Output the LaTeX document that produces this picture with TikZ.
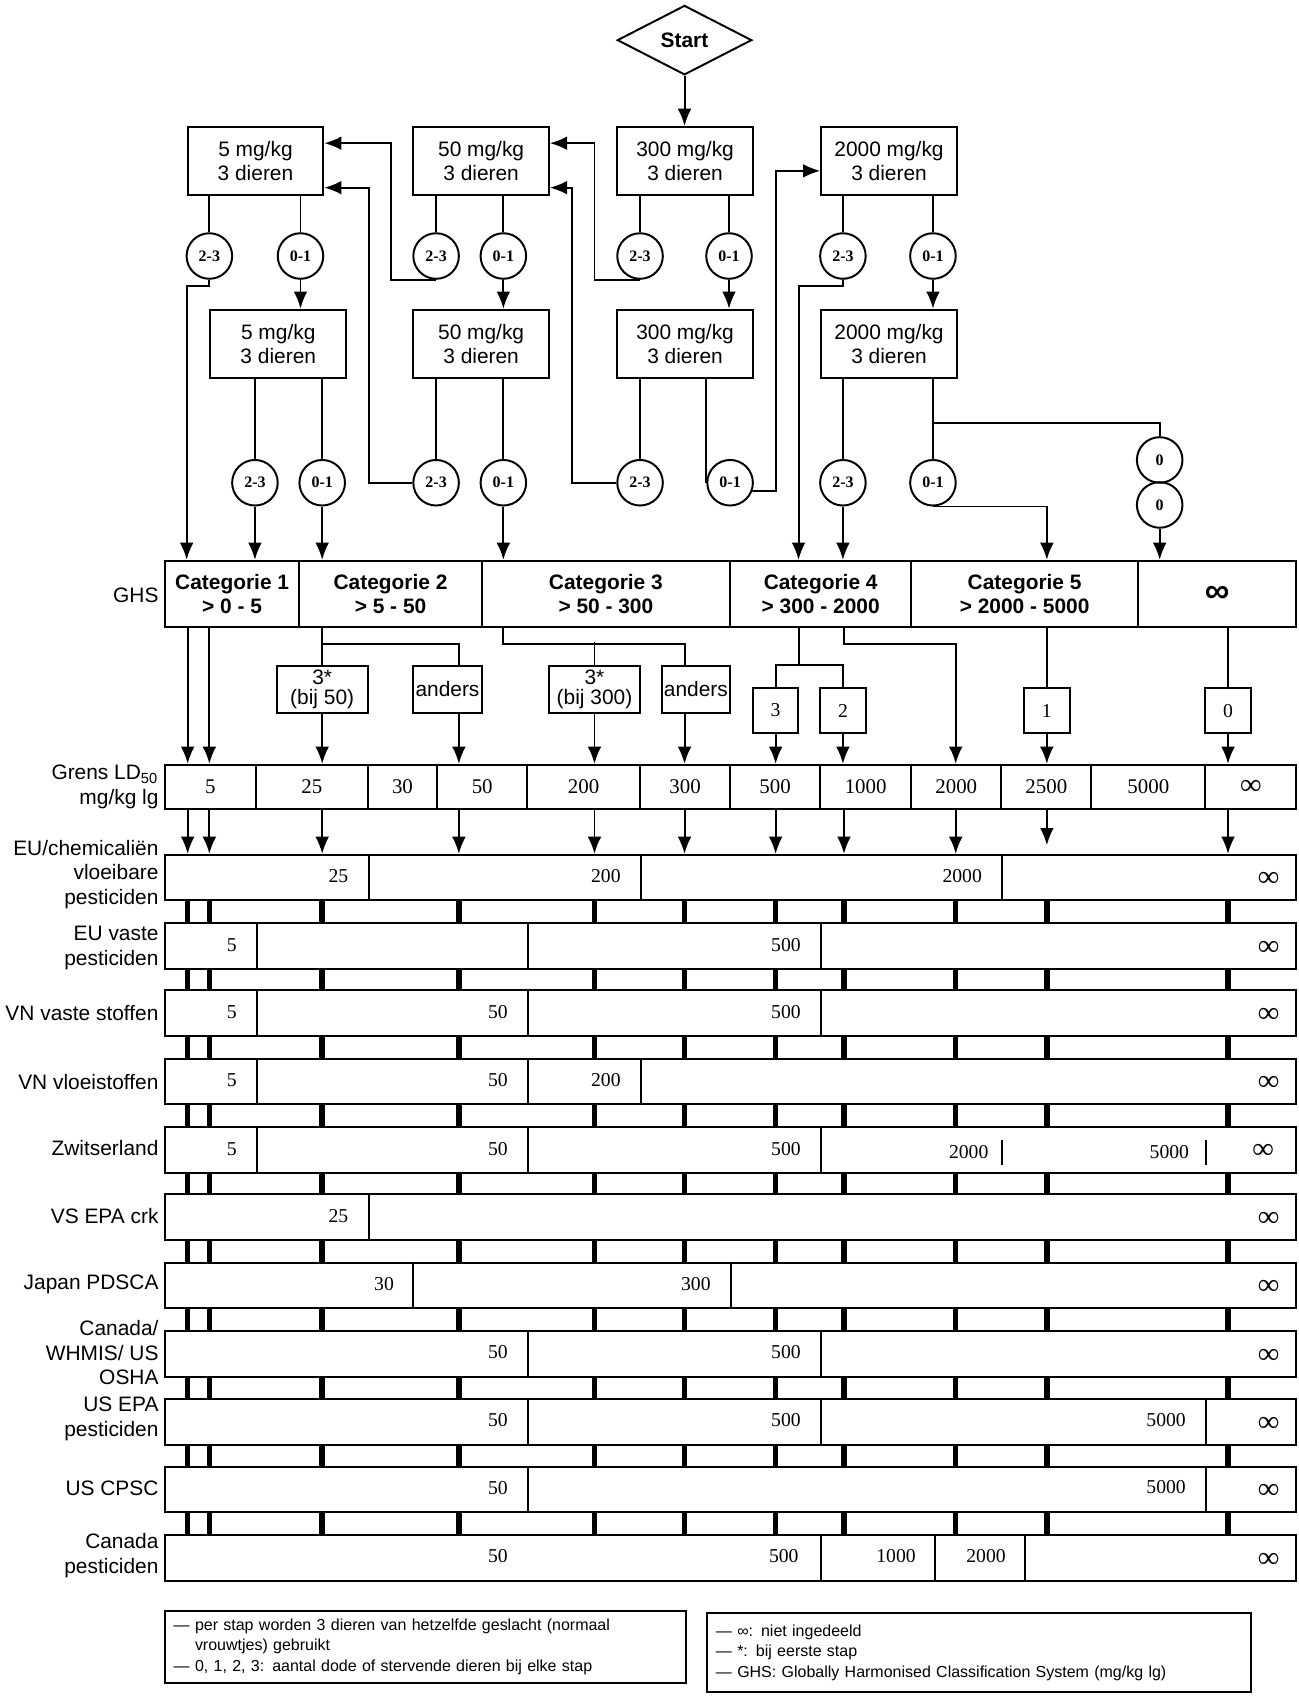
\documentclass[tikz,border=0pt]{standalone}
\usepackage{fontspec}
\setmainfont{Liberation Sans}
\newfontfamily\tms{Liberation Serif}
\usepackage{tikz}
\usetikzlibrary{arrows.meta,shapes.geometric,calc}
\newcommand\pxu{0.0155cm}

\begin{document}
\begin{tikzpicture}[x=\pxu,y=-\pxu,line width=0.8pt,font=\fontsize{8.5}{10}\selectfont,
  arr/.style={-{Latex[length=7pt,width=5.6pt]}},
  dose/.style={draw,minimum width=125*\pxu,minimum height=63*\pxu,inner sep=0pt,align=center},
  tally/.style={draw,circle,minimum size=42*\pxu,inner sep=0pt,font=\tms\bfseries\fontsize{6.5}{7}\selectfont},
  cat/.style={draw,minimum height=61*\pxu,inner sep=0pt,align=center,font=\bfseries\fontsize{8.5}{10}\selectfont},
  sub/.style={draw,minimum height=43*\pxu,inner sep=0pt,align=center,font=\fontsize{8.5}{8}\selectfont},
  num/.style={draw,minimum size=42*\pxu,inner sep=0pt,font=\tms\fontsize{8}{9}\selectfont},
  grens/.style={draw,minimum height=41*\pxu,inner sep=0pt,font=\tms\fontsize{8.5}{10}\selectfont},
  band/.style={draw,minimum width=1043*\pxu,minimum height=42*\pxu,inner sep=0pt},
  val/.style={anchor=east,inner sep=0pt,font=\tms\fontsize{8}{9}\selectfont},
  inf/.style={anchor=east,inner sep=0pt,font=\tms\bfseries\fontsize{12}{12}\selectfont},
  lbl/.style={anchor=east,inner sep=0pt,align=right},
  rung/.style={line width=2.2pt},
  note/.style={draw,align=left,inner xsep=0.124cm,font=\fontsize{6.5}{8.2}\selectfont}]
  \useasboundingbox (0,0) rectangle (1197,1568);

  \foreach \x [count=\i] in {173,193,297,423,548,631,715,778,881,965,1132}
    \coordinate (l\i) at (\x,0);

  \node[draw,diamond,aspect=2,minimum width=124*\pxu,minimum height=64*\pxu,inner sep=0pt,font=\bfseries\fontsize{8.5}{10}\selectfont] (start) at (631,37) {Start};

  \node[dose] (b1) at (235.5,148.5) {5 mg/kg\\3 dieren};
  \node[dose] (b2) at (443.5,148.5) {50 mg/kg\\3 dieren};
  \node[dose] (b3) at (631.5,148.5) {300 mg/kg\\3 dieren};
  \node[dose] (b4) at (819.5,148.5) {2000 mg/kg\\3 dieren};

  \node[tally] (b1l) at (193,236) {2-3};
  \node[tally] (b1r) at (277,236) {0-1};
  \node[tally] (b2l) at (402,236) {2-3};
  \node[tally] (b2r) at (464,236) {0-1};
  \node[tally] (b3l) at (590,236) {2-3};
  \node[tally] (b3r) at (672,236) {0-1};
  \node[tally] (b4l) at (777,236) {2-3};
  \node[tally] (b4r) at (860,236) {0-1};

  \node[dose] (c1) at (256.5,317) {5 mg/kg\\3 dieren};
  \node[dose] (c2) at (443.5,317) {50 mg/kg\\3 dieren};
  \node[dose] (c3) at (631.5,317) {300 mg/kg\\3 dieren};
  \node[dose] (c4) at (819.5,317) {2000 mg/kg\\3 dieren};

  \node[tally] (c1l) at (235,445) {2-3};
  \node[tally] (c1r) at (297,445) {0-1};
  \node[tally] (c2l) at (402,445) {2-3};
  \node[tally] (c2r) at (464,445) {0-1};
  \node[tally] (c3l) at (590,445) {2-3};
  \node[tally] (c3r) at (673,445) {0-1};
  \node[tally] (c4l) at (777,445) {2-3};
  \node[tally] (c4r) at (860,445) {0-1};
  \node[tally] (z1) at (1069,424) {0};
  \node[tally] (z2) at (1069,465.5) {0};

  \node[lbl] (ghs) at (147,549) {GHS};
  \node[cat,minimum width=124*\pxu] (cat1) at (214,547.5) {Categorie 1\\> 0 - 5};
  \node[cat,minimum width=168*\pxu] (cat2) at (360,547.5) {Categorie 2\\> 5 - 50};
  \node[cat,minimum width=229*\pxu] (cat3) at (558.5,547.5) {Categorie 3\\> 50 - 300};
  \node[cat,minimum width=167*\pxu] (cat4) at (756.5,547.5) {Categorie 4\\> 300 - 2000};
  \node[cat,minimum width=209*\pxu] (cat5) at (944.5,547.5) {Categorie 5\\> 2000 - 5000};
  \node[cat,minimum width=146*\pxu,font=\bfseries\fontsize{14}{14}\selectfont] (cat6) at (1122,547.5) {∞};

  \node[sub,minimum width=84*\pxu] (s50) at (297,635.5) {3*\\(bij 50)};
  \node[sub,minimum width=63*\pxu] (o50) at (412.5,635.5) {anders};
  \node[sub,minimum width=84*\pxu] (s300) at (548,635.5) {3*\\(bij 300)};
  \node[sub,minimum width=63*\pxu] (o300) at (641.5,635.5) {anders};
  \node[num] (n3) at (715,655) {3};
  \node[num] (n2) at (777,655) {2};
  \node[num] (n1) at (965,655) {1};
  \node[num] (n0) at (1132,655) {0};

  \node[lbl] (lgrens) at (147,725.5) {Grens LD\textsubscript{50}\\mg/kg lg};
  \node[grens,minimum width=84*\pxu] (g5) at (194,725.5) {5};
  \node[grens,minimum width=103*\pxu] (g25) at (287.5,725.5) {25};
  \node[grens,minimum width=64*\pxu] (g30) at (371,725.5) {30};
  \node[grens,minimum width=83*\pxu] (g50) at (444.5,725.5) {50};
  \node[grens,minimum width=104*\pxu] (g200) at (538,725.5) {200};
  \node[grens,minimum width=83*\pxu] (g300) at (631.5,725.5) {300};
  \node[grens,minimum width=83*\pxu] (g500) at (714.5,725.5) {500};
  \node[grens,minimum width=84*\pxu] (g1000) at (798,725.5) {1000};
  \node[grens,minimum width=83*\pxu] (g2000) at (881.5,725.5) {2000};
  \node[grens,minimum width=83*\pxu] (g2500) at (964.5,725.5) {2500};
  \node[grens,minimum width=105*\pxu] (g5000) at (1058.5,725.5) {5000};
  \node[grens,minimum width=84*\pxu,font=\tms\bfseries\fontsize{12}{12}\selectfont] (ginf) at (1153,725.5) {∞};

  \node[lbl] (leuc) at (147,806) {EU/chemicaliën\\vloeibare\\pesticiden};
  \node[band] (r1) at (673.5,809) {};
  \draw (r1.north -| g25.east) -- (r1.south -| g25.east);
  \draw (r1.north -| g200.east) -- (r1.south -| g200.east);
  \draw (r1.north -| g2000.east) -- (r1.south -| g2000.east);
  \node[val] (r1a) at (322,808) {25};
  \node[val] (r1b) at (573,808) {200};
  \node[val] (r1c) at (906,808) {2000};
  \node[inf] (r1d) at (1180,811) {∞};

  \node[lbl] (leuv) at (147,874) {EU vaste\\pesticiden};
  \node[band] (r2) at (673.5,872) {};
  \draw (r2.north -| g5.east) -- (r2.south -| g5.east);
  \draw (r2.north -| g50.east) -- (r2.south -| g50.east);
  \draw (r2.north -| g500.east) -- (r2.south -| g500.east);
  \node[val] (r2a) at (219,871) {5};
  \node[val] (r2b) at (739,871) {500};
  \node[inf] (r2c) at (1180,874) {∞};

  \node[lbl] (lvnv) at (147,934) {VN vaste stoffen};
  \node[band] (r3) at (673.5,934) {};
  \draw (r3.north -| g5.east) -- (r3.south -| g5.east);
  \draw (r3.north -| g50.east) -- (r3.south -| g50.east);
  \draw (r3.north -| g500.east) -- (r3.south -| g500.east);
  \node[val] (r3a) at (219,933) {5};
  \node[val] (r3b) at (469,933) {50};
  \node[val] (r3c) at (739,933) {500};
  \node[inf] (r3d) at (1180,936) {∞};

  \node[lbl] (lvnl) at (147,997) {VN vloeistoffen};
  \node[band] (r4) at (673.5,997) {};
  \draw (r4.north -| g5.east) -- (r4.south -| g5.east);
  \draw (r4.north -| g50.east) -- (r4.south -| g50.east);
  \draw (r4.north -| g200.east) -- (r4.south -| g200.east);
  \node[val] (r4a) at (219,996) {5};
  \node[val] (r4b) at (469,996) {50};
  \node[val] (r4c) at (573,996) {200};
  \node[inf] (r4d) at (1180,999) {∞};

  \node[lbl] (lzw) at (147,1058) {Zwitserland};
  \node[band] (r5) at (673.5,1060) {};
  \draw (r5.north -| g5.east) -- (r5.south -| g5.east);
  \draw (r5.north -| g50.east) -- (r5.south -| g50.east);
  \draw (r5.north -| g500.east) -- (r5.south -| g500.east);
  \draw (r5.center -| g2000.east) ++(0,-9) -- ++(0,23);
  \draw (r5.center -| g5000.east) ++(0,-9) -- ++(0,23);
  \node[val] (r5a) at (219,1059) {5};
  \node[val] (r5b) at (469,1059) {50};
  \node[val] (r5c) at (739,1059) {500};
  \node[val] (r5d) at (912,1062) {2000};
  \node[val] (r5e) at (1097,1062) {5000};
  \node[inf] (r5f) at (1175,1061) {∞};

  \node[lbl] (lvs) at (147,1121) {VS EPA crk};
  \node[band] (r6) at (673.5,1122) {};
  \draw (r6.north -| g25.east) -- (r6.south -| g25.east);
  \node[val] (r6a) at (322,1121) {25};
  \node[inf] (r6b) at (1180,1124) {∞};

  \node[lbl] (ljp) at (147,1184) {Japan PDSCA};
  \node[band] (r7) at (673.5,1185) {};
  \draw (r7.north -| 381,0) -- (r7.south -| 381,0);
  \draw (r7.north -| g300.east) -- (r7.south -| g300.east);
  \node[val] (r7a) at (364,1184) {30};
  \node[val] (r7b) at (656,1184) {300};
  \node[inf] (r7c) at (1180,1187) {∞};

  \node[lbl] (lca) at (147,1247) {Canada/\\WHMIS/ US\\OSHA};
  \node[band] (r8) at (673.5,1248) {};
  \draw (r8.north -| g50.east) -- (r8.south -| g50.east);
  \draw (r8.north -| g500.east) -- (r8.south -| g500.east);
  \node[val] (r8a) at (469,1246) {50};
  \node[val] (r8b) at (739,1246) {500};
  \node[inf] (r8c) at (1180,1250) {∞};

  \node[lbl] (lusp) at (147,1308) {US EPA\\pesticiden};
  \node[band] (r9) at (673.5,1311) {};
  \draw (r9.north -| g50.east) -- (r9.south -| g50.east);
  \draw (r9.north -| g500.east) -- (r9.south -| g500.east);
  \draw (r9.north -| g5000.east) -- (r9.south -| g5000.east);
  \node[val] (r9a) at (469,1309) {50};
  \node[val] (r9b) at (739,1309) {500};
  \node[val] (r9c) at (1094,1309) {5000};
  \node[inf] (r9d) at (1180,1313) {∞};

  \node[lbl] (lcpsc) at (147,1372) {US CPSC};
  \node[band] (r10) at (673.5,1373) {};
  \draw (r10.north -| g50.east) -- (r10.south -| g50.east);
  \draw (r10.north -| g5000.east) -- (r10.south -| g5000.east);
  \node[val] (r10a) at (469,1372) {50};
  \node[val] (r10b) at (1094,1371) {5000};
  \node[inf] (r10c) at (1180,1375) {∞};

  \node[lbl] (lcap) at (147,1434) {Canada\\pesticiden};
  \node[band] (r11) at (673.5,1436) {};
  \draw (r11.north -| g500.east) -- (r11.south -| g500.east);
  \draw (r11.north -| 862,0) -- (r11.south -| 862,0);
  \draw (r11.north -| 945,0) -- (r11.south -| 945,0);
  \node[val] (r11a) at (469,1434) {50};
  \node[val] (r11b) at (737,1434) {500};
  \node[val] (r11c) at (845,1434) {1000};
  \node[val] (r11d) at (928,1434) {2000};
  \node[inf] (r11e) at (1180,1438) {∞};

  \node[note,minimum width=480*\pxu,minimum height=62*\pxu,text width=7.19cm] (note1) at (392,1518) {— per stap worden 3 dieren van hetzelfde geslacht (normaal\\\phantom{— }vrouwtjes) gebruikt\\— 0, 1, 2, 3: aantal dode of stervende dieren bij elke stap};
  \node[note,minimum width=501*\pxu,minimum height=73*\pxu,text width=7.52cm] (note2) at (902.5,1523.5) {— ∞: niet ingedeeld\\— *: bij eerste stap\\— GHS: Globally Harmonised Classification System (mg/kg lg)};

  \draw[arr] (start) -- (start |- b3.north);
  \draw (b1.south -| b1l) -- (b1l);
  \draw (b1.south -| b1r) -- (b1r);
  \draw (b2.south -| b2l) -- (b2l);
  \draw (b2.south -| b2r) -- (b2r);
  \draw (b3.south -| b3l) -- (b3l);
  \draw (b3.south -| b3r) -- (b3r);
  \draw (b4.south -| b4l) -- (b4l);
  \draw (b4.south -| b4r) -- (b4r);
  \draw[arr] (b1r) -- (b1r |- c1.north);
  \draw[arr] (b2r) -- (b2r |- c2.north);
  \draw[arr] (b3r) -- (b3r |- c3.north);
  \draw[arr] (b4r) -- (b4r |- c4.north);
  \draw[arr] (b2l.south) -- ++(-42,0) |- ($(b1.east)+(0,-16.5)$);
  \draw[arr] (b3l.south) -- ++(-42,0) |- ($(b2.east)+(0,-16.5)$);
  \draw[arr] (b1l.south) -- ++(0,6) -| (cat1.north -| b1.west);
  \draw[arr] (b4l.south) -- ++(0,6) -| ($(cat4.north west)+(64,0)$);

  \draw (c1.south -| c1l) -- (c1l);
  \draw (c1.south -| c1r) -- (c1r);
  \draw (c2.south -| c2l) -- (c2l);
  \draw (c2.south -| c2r) -- (c2r);
  \draw (c3.south -| c3l) -- (c3l);
  \draw (c3.south -| c3r.west) -- (c3r.west);
  \draw (c4.south -| c4l) -- (c4l);
  \draw (c4.south -| c4r) -- (c4r);
  \draw (c4r.north) ++(0,-33) -| (z1);
  \draw[arr] (c1l) -- (c1l |- cat1.north);
  \draw[arr] (c1r) -- (c1r |- cat2.north);
  \draw[arr] (c2l.west) -- ++(-40,0) |- ($(b1.east)+(0,24.5)$);
  \draw[arr] (c2r) -- (c2r |- cat3.north);
  \draw[arr] (c3l.west) -- ++(-41,0) |- ($(b2.east)+(0,24.5)$);
  \draw[arr] (c3r.-20) -- ++(22,0) |- ($(b4.west)+(0,9)$);
  \draw[arr] (c4l) -- (c4l |- cat4.north);
  \draw[arr] (c4r.south) -| (cat5.north -| l10);
  \draw[arr] (z2) -- (z2 |- cat6.north);

  \draw[arr] (cat1.south -| l1) -- (g5.north -| l1);
  \draw[arr] (cat1.south -| l2) -- (g5.north -| l2);
  \draw (cat2.south -| l3) -- ++(0,15) -| (o50.north -| l4);
  \draw (cat2.south -| l3) -- (s50);
  \draw[arr] (s50) -- (s50 |- g25.north);
  \draw[arr] (o50.south -| l4) -- (g50.north -| l4);
  \draw ($(cat3.south west)+(21,0)$) -- ++(0,15) -| (o300.north -| l6);
  \draw (s300.north) -- ++(0,-21);
  \draw[arr] (s300) -- (s300 |- g200.north);
  \draw[arr] (o300.south -| l6) -- (g300.north -| l6);
  \draw ($(cat4.south west)+(64,0)$) -- ++(0,34) coordinate (fork4);
  \draw (n3) |- (fork4) -| (n2);
  \draw[arr] (n3) -- (n3 |- g500.north);
  \draw[arr] (n2) -- (n2 |- g1000.north);
  \draw[arr] (cat4.south -| l8) -- ++(0,15) -| (g2000.north -| l9);
  \draw (cat5.south -| n1) -- (n1);
  \draw[arr] (n1) -- (n1 |- g2500.north);
  \draw (cat6.south -| n0) -- (n0);
  \draw[arr] (n0) -- (n0 |- ginf.north);

  \foreach \k in {1,...,9,11}
    \draw[arr] (g5.south -| l\k) -- (r1.north -| l\k);
  \draw[arr,shorten >=3.5pt] (g5.south -| l10) -- (r1.north -| l10);
  \foreach \i [evaluate=\i as \j using int(\i+1)] in {1,...,10}
    \foreach \k in {1,...,11}
      \draw[rung] (r\i.south -| l\k) -- (r\j.north -| l\k);
\end{tikzpicture}
\end{document}
